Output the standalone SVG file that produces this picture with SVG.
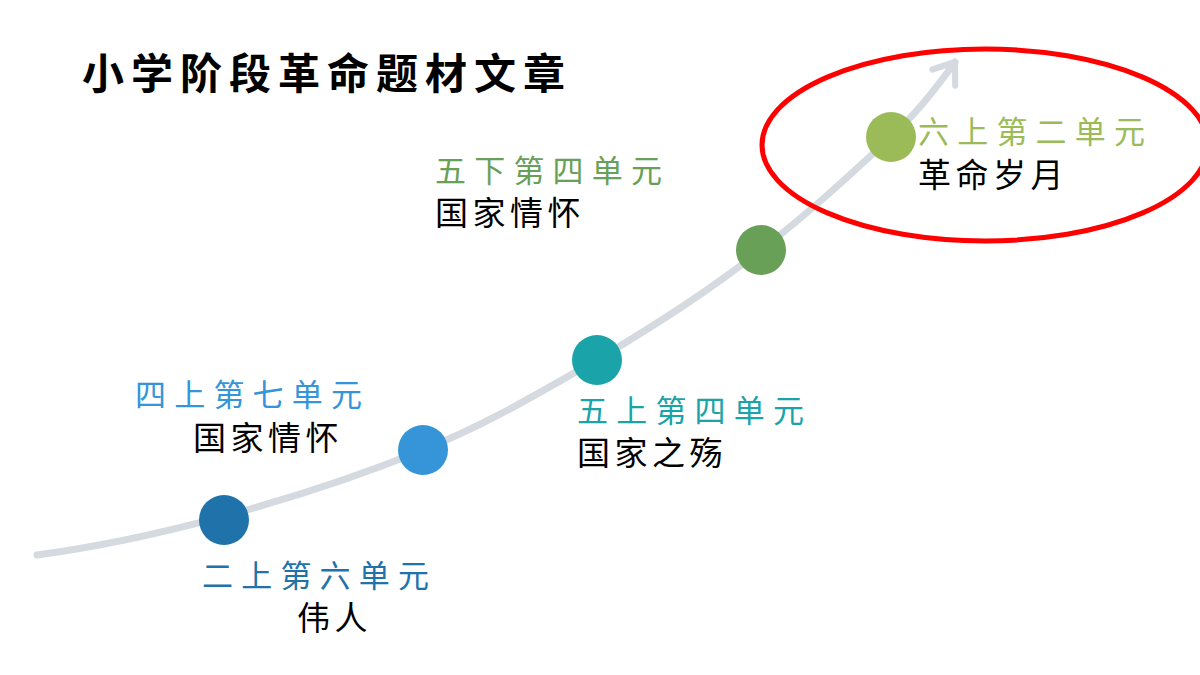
<svg xmlns="http://www.w3.org/2000/svg" width="1200" height="675" viewBox="0 0 1200 675">
<style>
.t{font-family:"Noto Sans CJK SC","Noto Sans",sans-serif;font-size:31px;letter-spacing:8.2px}
.b{fill:#000;font-size:33px;letter-spacing:4.5px}
</style>
<defs>
<marker id="ah" viewBox="0 0 20 20" refX="14" refY="10" markerWidth="5" markerHeight="5" orient="auto" markerUnits="strokeWidth">
<polyline points="3,2 14,10 3,18" fill="none" stroke="#d5d9e0" stroke-width="3.5" stroke-linecap="round" stroke-linejoin="round"/>
</marker>
</defs>
<rect width="1200" height="675" fill="#fff"/>
<g id="title"><text x="82" y="89" style="font-family:'Noto Sans CJK SC',sans-serif;font-size:42px;font-weight:bold;letter-spacing:7px">小学阶段革命题材文章</text></g>
<g id="connectors">
<path d="M37,555 C150,540 300,500 423,450 C490,423 540,392 597,360 C660,322 710,290 761,250 C810,212 850,175 891,137 C915,115 935,90 955,62" fill="none" stroke="#d5d9e0" stroke-width="7" stroke-linecap="round" marker-end="url(#ah)"/>
</g>
<g id="n1"><circle cx="224" cy="520" r="25" fill="#1f72aa"/><text class="t" x="202" y="587" fill="#1f72aa">二上第六单元</text><text class="t b" x="297" y="630">伟人</text></g>
<g id="n2"><circle cx="423" cy="450" r="25" fill="#3595d8"/><text class="t" x="135" y="406" fill="#3595d8">四上第七单元</text><text class="t b" x="193" y="450">国家情怀</text></g>
<g id="n3"><circle cx="597" cy="360" r="25" fill="#1aa3a8"/><text class="t" x="577" y="422" fill="#1aa3a8">五上第四单元</text><text class="t b" x="577" y="465">国家之殇</text></g>
<g id="n4"><circle cx="761" cy="250" r="25" fill="#68a057"/><text class="t" x="435" y="182" fill="#68a057">五下第四单元</text><text class="t b" x="435" y="225">国家情怀</text></g>
<g id="n5"><circle cx="891" cy="137" r="25" fill="#9bbb59"/><text class="t" x="918" y="143" fill="#9bbb59">六上第二单元</text><text class="t b" x="918" y="187">革命岁月</text></g>
<g id="highlight"><ellipse cx="985" cy="145" rx="223" ry="96" fill="none" stroke="#ff0000" stroke-width="5"/></g>
</svg>
